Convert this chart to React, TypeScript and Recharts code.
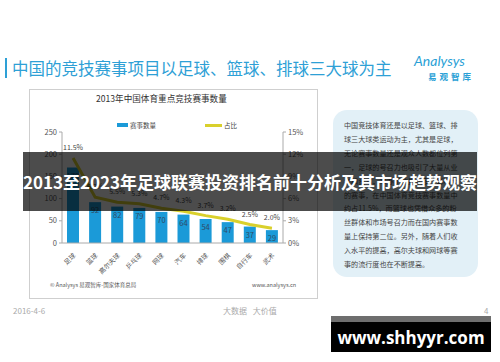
import { ComposedChart, Bar, Line, XAxis, YAxis, LabelList } from 'recharts';

const SPORTS = ['足球', '篮球', '高尔夫球', '乒乓球', '网球', '汽车', '排球', '围棋', '自行车', '武术'];
const EVENT_COUNTS = [170, 92, 82, 79, 70, 64, 54, 47, 37, 29];
const SHARE_PCT = [11.5, 6.2, 5.5, 5.3, 4.7, 4.3, 3.7, 3.2, 2.5, 2.0];
const LEFT_TICKS = [0, 50, 100, 150, 200, 250];
const RIGHT_TICKS = [0, 3, 6, 9, 12, 15];

const NOTE_LINES = [
  '中国竞技体育还是以足球、篮球、排',
  '球三大球类运动为主，尤其是足球，',
  '无论赛事数量还是观众人数都位列第',
  '一，足球的号召力也吸引了大量从业',
  '者和资本，举办了数量众多、影响大',
  '的赛事，在中国体育竞技赛事数量中',
  '约占11.5%，而篮球也凭借众多的粉',
  '丝群体和市场号召力而在国内赛事数',
  '量上保持第二位。另外，随着人们收',
  '入水平的提高，高尔夫球和网球等赛',
  '事的流行度也在不断提高。',
];

const BLUE = '#1b9ad8';
const YELLOW = '#d9d02c';
const FONT = '"Noto Sans CJK SC", "Noto Sans", sans-serif';

const data = SPORTS.map((name, i) => ({ name, count: EVENT_COUNTS[i], share: SHARE_PCT[i] }));

function XTick({ x, y, payload }: any) {
  const ax = x + 3;
  const ay = y + 5;
  return (
    <text x={ax} y={ay} transform={`rotate(-45 ${ax} ${ay})`} textAnchor="end" fontSize={6.5} fill="#555" fontFamily={FONT}>
      {payload.value}
    </text>
  );
}

const abs = (s: React.CSSProperties): React.CSSProperties => ({ position: 'absolute', fontFamily: FONT, whiteSpace: 'nowrap', ...s });

export default function App() {
  return (
    <div style={{ position: 'absolute', left: 0, top: 0, width: 500, height: 362, background: '#fff', overflow: 'hidden' }}>
      {/* slide header */}
      <div style={abs({ left: 5, top: 58, width: 2, height: 20, background: '#2ea0d6' })} />
      <div style={abs({ left: 12, top: 57, fontSize: 16.5, color: '#2ea0d6', lineHeight: '22px' })}>
        中国的竞技赛事项目以足球、篮球、排球三大球为主
      </div>
      <div style={abs({ left: 414, top: 52, fontSize: 14, color: '#2a9fd6', fontStyle: 'italic', fontFamily: 'Lato, sans-serif' })}>
        Analysys
      </div>
      <div style={abs({ left: 428, top: 70, fontSize: 8.5, color: '#2a9fd6', fontWeight: 700, letterSpacing: 3 })}>易观智库</div>

      {/* chart frame */}
      <div style={abs({ left: 29, top: 89, width: 287, height: 208, border: '1px solid #cfcfcf' })} />
      <div style={abs({ left: 96, top: 92, fontSize: 8.6, color: '#333', lineHeight: '12px' })}>2013年中国体育重点竞技赛事数量</div>
      <div style={abs({ left: 117, top: 123, width: 11, height: 4, background: BLUE })} />
      <div style={abs({ left: 130, top: 120, fontSize: 6.5, color: '#444', lineHeight: '10px' })}>赛事数量</div>
      <div style={abs({ left: 205, top: 124, width: 17, height: 3, background: YELLOW })} />
      <div style={abs({ left: 224, top: 120, fontSize: 6.5, color: '#444', lineHeight: '10px' })}>占比</div>

      <div style={{ position: 'absolute', left: 30, top: 90 }}>
        <ComposedChart width={287} height={208} data={data} margin={{ top: 42, right: 0, left: 0, bottom: 15 }}>
          <XAxis dataKey="name" height={40} interval={0} tick={<XTick />} tickLine={false} stroke="#aaa" />
          <YAxis yAxisId="l" width={32} domain={[0, 250]} ticks={LEFT_TICKS} tickSize={3} tickMargin={2}
            stroke="#aaa" tick={{ fontSize: 7.5, fill: '#555', fontFamily: FONT }} />
          <YAxis yAxisId="r" orientation="right" width={34} domain={[0, 15]} ticks={RIGHT_TICKS} tickSize={3} tickMargin={2}
            stroke="#aaa" tick={{ fontSize: 7.5, fill: '#555', fontFamily: FONT }} tickFormatter={(v) => `${v}%`} />
          <Bar yAxisId="l" dataKey="count" fill={BLUE} barSize={12} isAnimationActive={false}>
            <LabelList dataKey="count" position="insideTop" offset={6} fontSize={7.5} fill="#2d4b66" fontFamily={FONT} />
          </Bar>
          <Line yAxisId="r" dataKey="share" stroke={YELLOW} strokeWidth={3} dot={false} isAnimationActive={false}>
            <LabelList dataKey="share" position="top" offset={8} fontSize={7} fill="#444" fontFamily={FONT}
              formatter={(v: any) => `${Number(v).toFixed(1)}%`} />
          </Line>
        </ComposedChart>
      </div>

      <div style={abs({ left: 50, top: 281, fontSize: 5.5, color: '#555' })}>© Analysys 易观智库-国家体育总局</div>
      <div style={abs({ left: 252, top: 281, fontSize: 5.5, color: '#555' })}>www.analysys.cn</div>

      {/* note box */}
      <div style={abs({ left: 333, top: 110, width: 145, height: 167, borderRadius: 14, background: '#e2f0f7' })} />
      {NOTE_LINES.map((line, i) => (
        <div key={i} style={abs({ left: 344, top: 120 + i * 13.9, fontSize: 7.1, color: '#444', lineHeight: '10px' })}>
          {line}
        </div>
      ))}

      {/* slide footer */}
      <div style={abs({ left: 13, top: 305, fontSize: 8, color: '#aaa' })}>2016-4-6</div>
      <div style={abs({ left: 223, top: 305, fontSize: 8, color: '#aaa', wordSpacing: 4 })}>大数据 大价值</div>
      <div style={abs({ left: 484, top: 305, fontSize: 8, color: '#aaa' })}>4</div>

      {/* overlay banner */}
      <div style={abs({ left: 23, top: 152, width: 454, height: 59, background: 'rgba(0,0,0,0.7)' })} />
      <div style={abs({ left: 23, top: 152, width: 454, height: 59, display: 'flex', alignItems: 'center', justifyContent: 'center',
        color: '#fff', fontSize: 17, fontWeight: 700 })}>
        2013至2023年足球联赛投资排名前十分析及其市场趋势观察
      </div>

      {/* watermark */}
      <div style={abs({ left: 331, top: 316, width: 160, height: 36, background: '#000' })} />
      <div style={abs({ left: 331, top: 316, width: 160, height: 6, background: '#6e6e6e' })} />
      <div style={abs({ left: 331, top: 322, width: 160, height: 30, display: 'flex', alignItems: 'center', justifyContent: 'center',
        color: '#fff', fontSize: 17, fontWeight: 700, fontFamily: '"Open Sans", sans-serif' })}>
        www.shhyyr.com
      </div>
    </div>
  );
}
